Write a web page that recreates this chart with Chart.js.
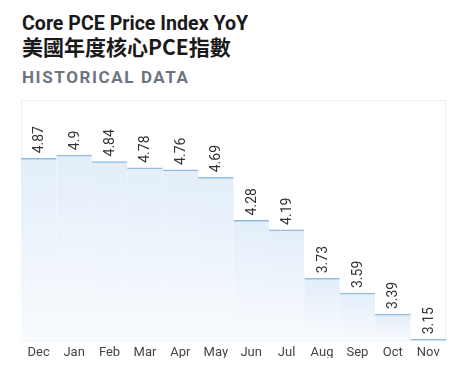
<!DOCTYPE html>
<html>
<head>
<meta charset="utf-8">
<script src="https://cdn.jsdelivr.net/npm/chart.js@4/dist/chart.umd.min.js"></script>
<style>
  html, body { margin: 0; padding: 0; background: #fff; }
  body { width: 469px; height: 381px; position: relative; overflow: hidden; font-family: Roboto, sans-serif; }
  .title { position: absolute; left: 22px; top: 12px; font-size: 19.6px; font-weight: bold; color: #1a1a1a; }
  .subtitle { position: absolute; left: 22px; top: 33px; font-size: 21px; font-weight: bold; color: #1a1a1a; font-family: "Noto Sans CJK TC", sans-serif; line-height: 26px; }
  .section { position: absolute; left: 22px; top: 67px; font-size: 17px; font-weight: bold; color: #6b7480; letter-spacing: 1.6px; }
  #wrap { position: absolute; left: 0; top: 0; width: 469px; height: 381px; }
</style>
</head>
<body>
<div class="title">Core PCE Price Index YoY</div>
<div class="subtitle">美國年度核心PCE指數</div>
<div class="section">HISTORICAL DATA</div>
<div id="wrap"><canvas id="myChart"></canvas></div>
<script>
const months = ['Dec', 'Jan', 'Feb', 'Mar', 'Apr', 'May', 'Jun', 'Jul', 'Aug', 'Sep', 'Oct', 'Nov'];
const pceValues = [4.87, 4.9, 4.84, 4.78, 4.76, 4.69, 4.28, 4.19, 3.73, 3.59, 3.39, 3.15];
const yMin = 3.14;
const yMax = 5.424;

// each bar gets its own fade from the top edge down to the axis
const barFill = (ctx) => {
    const chart = ctx.chart;
    const yScale = chart.scales.y;
    if (!chart.chartArea || !yScale) return '#eaf2fb';
    const top = yScale.getPixelForValue(pceValues[ctx.dataIndex]);
    const bottom = chart.chartArea.bottom;
    if (bottom - top < 1) return '#eaf2fb';
    const g = chart.ctx.createLinearGradient(0, top, 0, bottom);
    g.addColorStop(0, '#e3eef9');
    g.addColorStop(1, '#f8fbfe');
    return g;
};

const areaBorder = {
    id: 'areaBorder',
    beforeDatasetsDraw(chart) {
        const { ctx, chartArea: a } = chart;
        ctx.save();
        ctx.strokeStyle = '#eceff2';
        ctx.lineWidth = 1;
        ctx.strokeRect(a.left + 0.5, a.top + 0.5, a.right - a.left - 1, a.bottom - a.top);
        ctx.restore();
    }
};

const valueLabels = {
    id: 'valueLabels',
    afterDatasetsDraw(chart) {
        const { ctx } = chart;
        const meta = chart.getDatasetMeta(0);
        ctx.save();
        ctx.fillStyle = '#333';
        ctx.font = '14px Roboto, sans-serif';
        ctx.textAlign = 'left';
        ctx.textBaseline = 'middle';
        meta.data.forEach((bar, i) => {
            ctx.save();
            ctx.translate(bar.x + 1, bar.y - 5);
            ctx.rotate(-Math.PI / 2);
            ctx.fillText(String(pceValues[i]), 0, 0);
            ctx.restore();
        });
        ctx.restore();
    }
};

const myChartRef = document.getElementById('myChart').getContext('2d');
new Chart(myChartRef, {
    type: 'bar',
    data: {
        labels: months,
        datasets: [{
            label: 'Core PCE YoY',
            data: pceValues,
            backgroundColor: barFill,
            borderColor: '#91bde2',
            borderWidth: { top: 1.5, left: 0, right: 0, bottom: 0 },
            borderSkipped: false,
            categoryPercentage: 1,
            barPercentage: 1
        }]
    },
    options: {
        responsive: true,
        maintainAspectRatio: false,
        animation: false,
        layout: { padding: { top: 100, left: 21, right: 23, bottom: 23 } },
        plugins: { legend: { display: false }, tooltip: { enabled: false } },
        scales: {
            x: {
                grid: { display: false },
                border: { display: false },
                ticks: { color: '#444', font: { family: 'Roboto', size: 13 }, padding: -3, maxRotation: 0 }
            },
            y: { display: false, min: yMin, max: yMax }
        }
    },
    plugins: [areaBorder, valueLabels]
});
</script>
</body>
</html>
